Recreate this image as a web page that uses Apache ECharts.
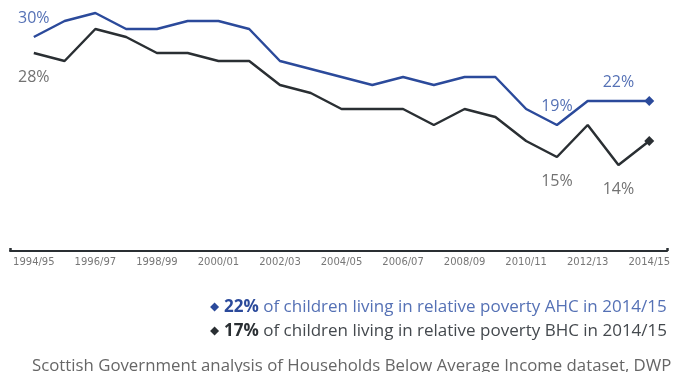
<!DOCTYPE html>
<html>
<head>
<meta charset="utf-8">
<style>html,body{margin:0;padding:0;background:#fff;}#chart{width:673px;height:372px;}</style>
<script src="https://cdn.jsdelivr.net/npm/echarts@6/dist/echarts.min.js"></script>
</head>
<body>
<div id="chart"></div>
<script>
const years = ['1994/95','1995/96','1996/97','1997/98','1998/99','1999/00','2000/01','2001/02','2002/03','2003/04','2004/05','2005/06','2006/07','2007/08','2008/09','2009/10','2010/11','2011/12','2012/13','2013/14','2014/15'];
const ahc = [30,32,33,31,31,32,32,31,27,26,25,24,25,24,25,25,21,19,22,22,22];
const bhc = [28,27,31,30,28,28,27,27,24,23,21,21,21,19,21,20,17,15,19,14,17];
const labelledPoints = [0,17,19];
const tickYears = [0,2,4,6,8,10,12,14,16,18,20];
const legendTexts = {
  AHC: ['22%', ' of children living in relative poverty AHC in 2014/15'],
  BHC: ['17%', ' of children living in relative poverty BHC in 2014/15']
};
const sourceText = 'Scottish Government analysis of Households Below Average Income dataset, DWP';

const FONT = '"Open Sans", "Noto Sans", sans-serif';
const BLUE = '#2b4a9b', BLUE_L = '#5571b5', DARK = '#2a2f33', GREY = '#727272';
const last = years.length - 1;

function build(vals, labelPos, labelColor, dist) {
  return vals.map((v, i) => {
    const item = { value: [i, v] };
    if (i === last) { item.symbolSize = 10; }
    if (labelledPoints.indexOf(i) >= 0) {
      item.label = { show: true, position: labelPos, distance: dist, color: labelColor,
        fontSize: 16, fontFamily: FONT, formatter: p => p.value[1] + '%' };
    }
    return item;
  });
}

const chart = echarts.init(document.getElementById('chart'));
chart.setOption({
  animation: false,
  backgroundColor: '#fff',
  grid: { left: 10, right: 1, top: 5, bottom: 121 },
  xAxis: {
    type: 'value', min: -0.774, max: 20.58,
    splitLine: { show: false },
    axisLine: { show: true, lineStyle: { color: DARK, width: 2 } },
    axisTick: { show: true, inside: true, length: 3, customValues: [-0.774, 20.58], lineStyle: { color: DARK, width: 2.5 } },
    axisLabel: { customValues: tickYears, formatter: v => years[Math.round(v)], color: '#777', fontSize: 10, fontFamily: '"DejaVu Sans", sans-serif', margin: 6 }
  },
  yAxis: { type: 'value', min: 3.25, max: 34, show: false, splitLine: { show: false } },
  legend: {
    orient: 'vertical', right: 1, top: 293, icon: 'diamond', itemWidth: 9, itemHeight: 9, itemGap: 6,
    textStyle: { fontSize: 17, fontFamily: FONT, lineHeight: 18,
      rich: {
        ba: { fontSize: 17, fontFamily: FONT, fontWeight: 'bold', color: BLUE, lineHeight: 18 },
        bb: { fontSize: 17, fontFamily: FONT, fontWeight: 'bold', color: DARK, lineHeight: 18 },
        ta: { fontSize: 17, fontFamily: FONT, color: BLUE_L, lineHeight: 18 },
        tb: { fontSize: 17, fontFamily: FONT, color: '#44494e', lineHeight: 18 }
      } },
    formatter: name => name === 'AHC' ? '{ba|' + legendTexts.AHC[0] + '}{ta|' + legendTexts.AHC[1] + '}'
                                      : '{bb|' + legendTexts.BHC[0] + '}{tb|' + legendTexts.BHC[1] + '}',
    data: ['AHC', 'BHC']
  },
  graphic: [{ type: 'text', left: 32, top: 358, style: { text: sourceText, fontSize: 16.8, fontFamily: FONT, fill: '#666' } }],
  series: [
    { name: 'AHC', type: 'line', data: build(ahc, 'top', BLUE_L, 11), symbol: 'diamond', symbolSize: 0,
      lineStyle: { color: BLUE, width: 2.5 }, itemStyle: { color: BLUE }, z: 3 },
    { name: 'BHC', type: 'line', data: build(bhc, 'bottom', GREY, 16), symbol: 'diamond', symbolSize: 0,
      lineStyle: { color: DARK, width: 2.5 }, itemStyle: { color: DARK }, z: 2 }
  ]
});
</script>
</body>
</html>
